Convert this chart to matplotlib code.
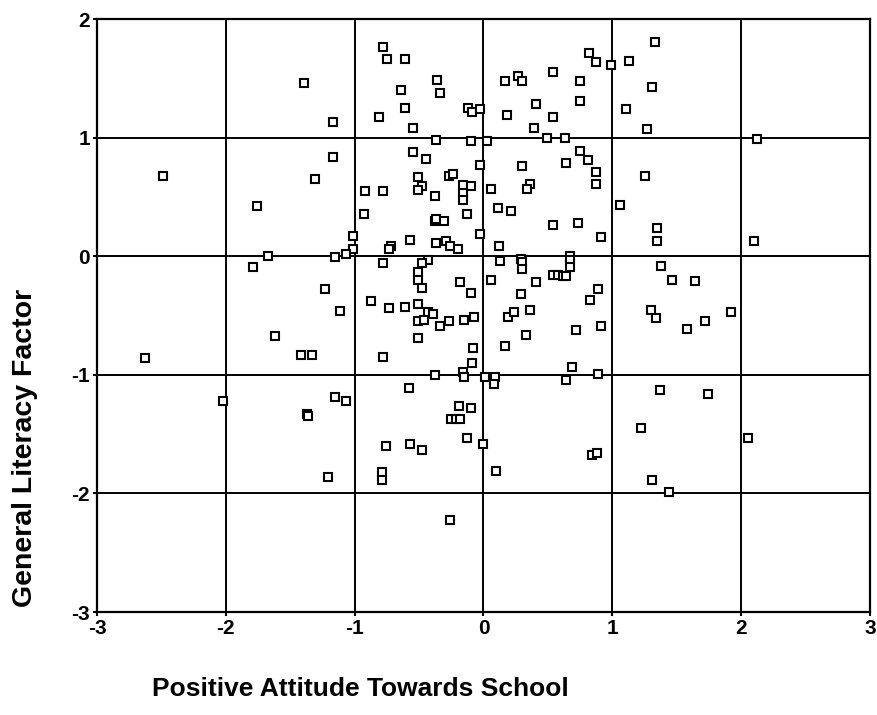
import matplotlib
matplotlib.use("Agg")
import matplotlib.pyplot as plt
from matplotlib import font_manager

# attitude score (x) and literacy factor (y) per pupil
attitude = [
    -0.78, -0.75, -0.61, -1.39, -0.36, -0.34, -0.64, -0.61, -0.81, -0.55,
    -1.17, -0.12, -0.09, -0.03, -0.37, -0.10, -1.17, -0.55, -0.45, -0.03,
    -1.31, -0.51, -0.27, -0.24, -0.48, -0.51, -0.92, -0.78, -0.38, -0.16,
    -0.10, -0.16, -0.16, -0.93, -0.13, -0.38, -0.37, -0.31, -0.03, -1.01,
    -1.01, -0.57, -0.72, -0.73, -0.37, -0.29, -0.26, -0.20, -1.07, -1.15,
    -0.43,
    -2.49, -1.76, -1.67, -1.79, -1.62, -2.63, -2.02,
    -0.78, -0.48, -0.51, -0.51, -0.48, -0.18, -0.10, -1.23, -1.11, -0.87,
    -0.73, -0.61, -0.51, -0.43, -0.39, -0.51, -0.46, -0.34, -0.27, -0.15,
    -0.07, -0.51, -0.08, -0.09, -1.42, -1.33, -0.78, -0.38, -0.16, -0.15,
    -0.58, -1.15, -1.07, -1.37, -1.36, -0.19, -0.10, -0.25, -0.21, -0.18,
    -0.13, -0.76, -0.57, -0.48, 0.00, -1.21, -0.79, -0.79, -0.26,
    1.33, 0.82, 0.87, 0.99, 1.13, 0.54, 0.75, 0.17, 0.27, 0.30,
    1.31, 0.75, 0.41, 1.11, 0.18, 0.54, 0.39, 1.27, 0.49, 0.63,
    0.03, 0.75, 0.81, 0.87, 0.87, 0.64, 0.30, 0.06, 0.36, 0.34,
    1.25, 0.11, 0.21, 1.06, 0.54, 0.73, 1.35, 1.35, 0.91, 0.12,
    0.13, 0.29, 0.30, 0.30, 0.67, 0.67, 0.67, 0.06, 0.41, 0.54,
    0.58, 0.62, 0.64, 0.29, 0.89, 0.83, 0.19, 0.24, 0.36, 0.72,
    0.91, 0.33, 0.17, 0.69, 0.89, 0.01, 0.09, 0.08, 0.64, 0.10,
    0.84, 0.88, 1.38, 1.46, 1.30, 1.34, 1.37, 1.22, 1.31, 1.44,
    1.64, 1.92, 1.72, 1.58, 1.74, 2.05, 2.12, 2.10,
]
literacy = [
    1.76, 1.66, 1.66, 1.46, 1.49, 1.38, 1.40, 1.25, 1.17, 1.08,
    1.13, 1.25, 1.22, 1.24, 0.98, 0.97, 0.84, 0.88, 0.82, 0.77,
    0.65, 0.67, 0.68, 0.69, 0.59, 0.56, 0.55, 0.55, 0.51, 0.60,
    0.59, 0.53, 0.47, 0.36, 0.36, 0.30, 0.31, 0.30, 0.19, 0.17,
    0.06, 0.14, 0.09, 0.06, 0.11, 0.13, 0.09, 0.06, 0.02, -0.01,
    -0.03,
    0.68, 0.42, 0.00, -0.09, -0.67, -0.86, -1.22,
    -0.06, -0.06, -0.13, -0.20, -0.27, -0.22, -0.31, -0.28, -0.46, -0.38,
    -0.44, -0.43, -0.40, -0.47, -0.49, -0.55, -0.54, -0.59, -0.55, -0.54,
    -0.51, -0.69, -0.77, -0.90, -0.83, -0.83, -0.85, -1.00, -0.98, -1.02,
    -1.11, -1.19, -1.22, -1.33, -1.35, -1.26, -1.28, -1.37, -1.37, -1.37,
    -1.53, -1.60, -1.58, -1.63, -1.58, -1.86, -1.82, -1.89, -2.22,
    1.81, 1.71, 1.64, 1.61, 1.65, 1.55, 1.48, 1.48, 1.52, 1.48,
    1.43, 1.31, 1.28, 1.24, 1.19, 1.17, 1.08, 1.07, 1.00, 1.00,
    0.97, 0.89, 0.81, 0.71, 0.61, 0.79, 0.76, 0.57, 0.61, 0.57,
    0.68, 0.41, 0.38, 0.43, 0.26, 0.28, 0.24, 0.13, 0.16, 0.09,
    -0.04, -0.02, -0.05, -0.11, 0.00, -0.03, -0.09, -0.20, -0.22, -0.16,
    -0.16, -0.17, -0.17, -0.32, -0.28, -0.37, -0.51, -0.47, -0.45, -0.62,
    -0.59, -0.66, -0.76, -0.93, -0.99, -1.02, -1.02, -1.08, -1.04, -1.81,
    -1.68, -1.66, -0.08, -0.20, -0.45, -0.52, -1.13, -1.45, -1.89, -1.99,
    -0.21, -0.47, -0.55, -0.61, -1.16, -1.53, 0.99, 0.13,
]
ticks = [-3, -2, -1, 0, 1, 2, 3]
y_ticks = [-3, -2, -1, 0, 1, 2]

names = {f.name for f in font_manager.fontManager.ttflist}
family = "Liberation Sans Narrow" if "Liberation Sans Narrow" in names else "Liberation Sans"
plt.rcParams["font.family"] = [family, "DejaVu Sans"]
plt.rcParams["axes.unicode_minus"] = False

fig = plt.figure(figsize=(8.77, 7.15), dpi=100)
ax = fig.add_axes([0.1106, 0.144, 0.8814, 0.8294])

for t in ticks[1:-1]:
    ax.axvline(t, color="black", linewidth=1.4, zorder=1)
for t in y_ticks[1:]:
    ax.axhline(t, color="black", linewidth=1.4, zorder=1)

ax.plot(attitude, literacy, linestyle="none", marker="s", markersize=5.8,
        markerfacecolor="white", markeredgecolor="black", markeredgewidth=1.5,
        zorder=3)

ax.set_xlim(-3, 3)
ax.set_ylim(-3, 2)
ax.set_xticks(ticks)
ax.set_yticks(y_ticks)
for s in ax.spines.values():
    s.set_linewidth(1.6)
ax.tick_params(length=3, width=1.5, labelsize=15, pad=2)
for lab in ax.get_xticklabels() + ax.get_yticklabels():
    lab.set_fontweight("bold")

fig.text(0.173, 0.027, "Positive Attitude Towards School", fontsize=19,
         fontweight="bold", ha="left", va="baseline")
fig.text(0.028, 0.373, "General Literacy Factor", fontsize=20.5,
         fontweight="bold", rotation=90, ha="center", va="center")

fig.savefig("out.png", dpi=100, facecolor="white")
